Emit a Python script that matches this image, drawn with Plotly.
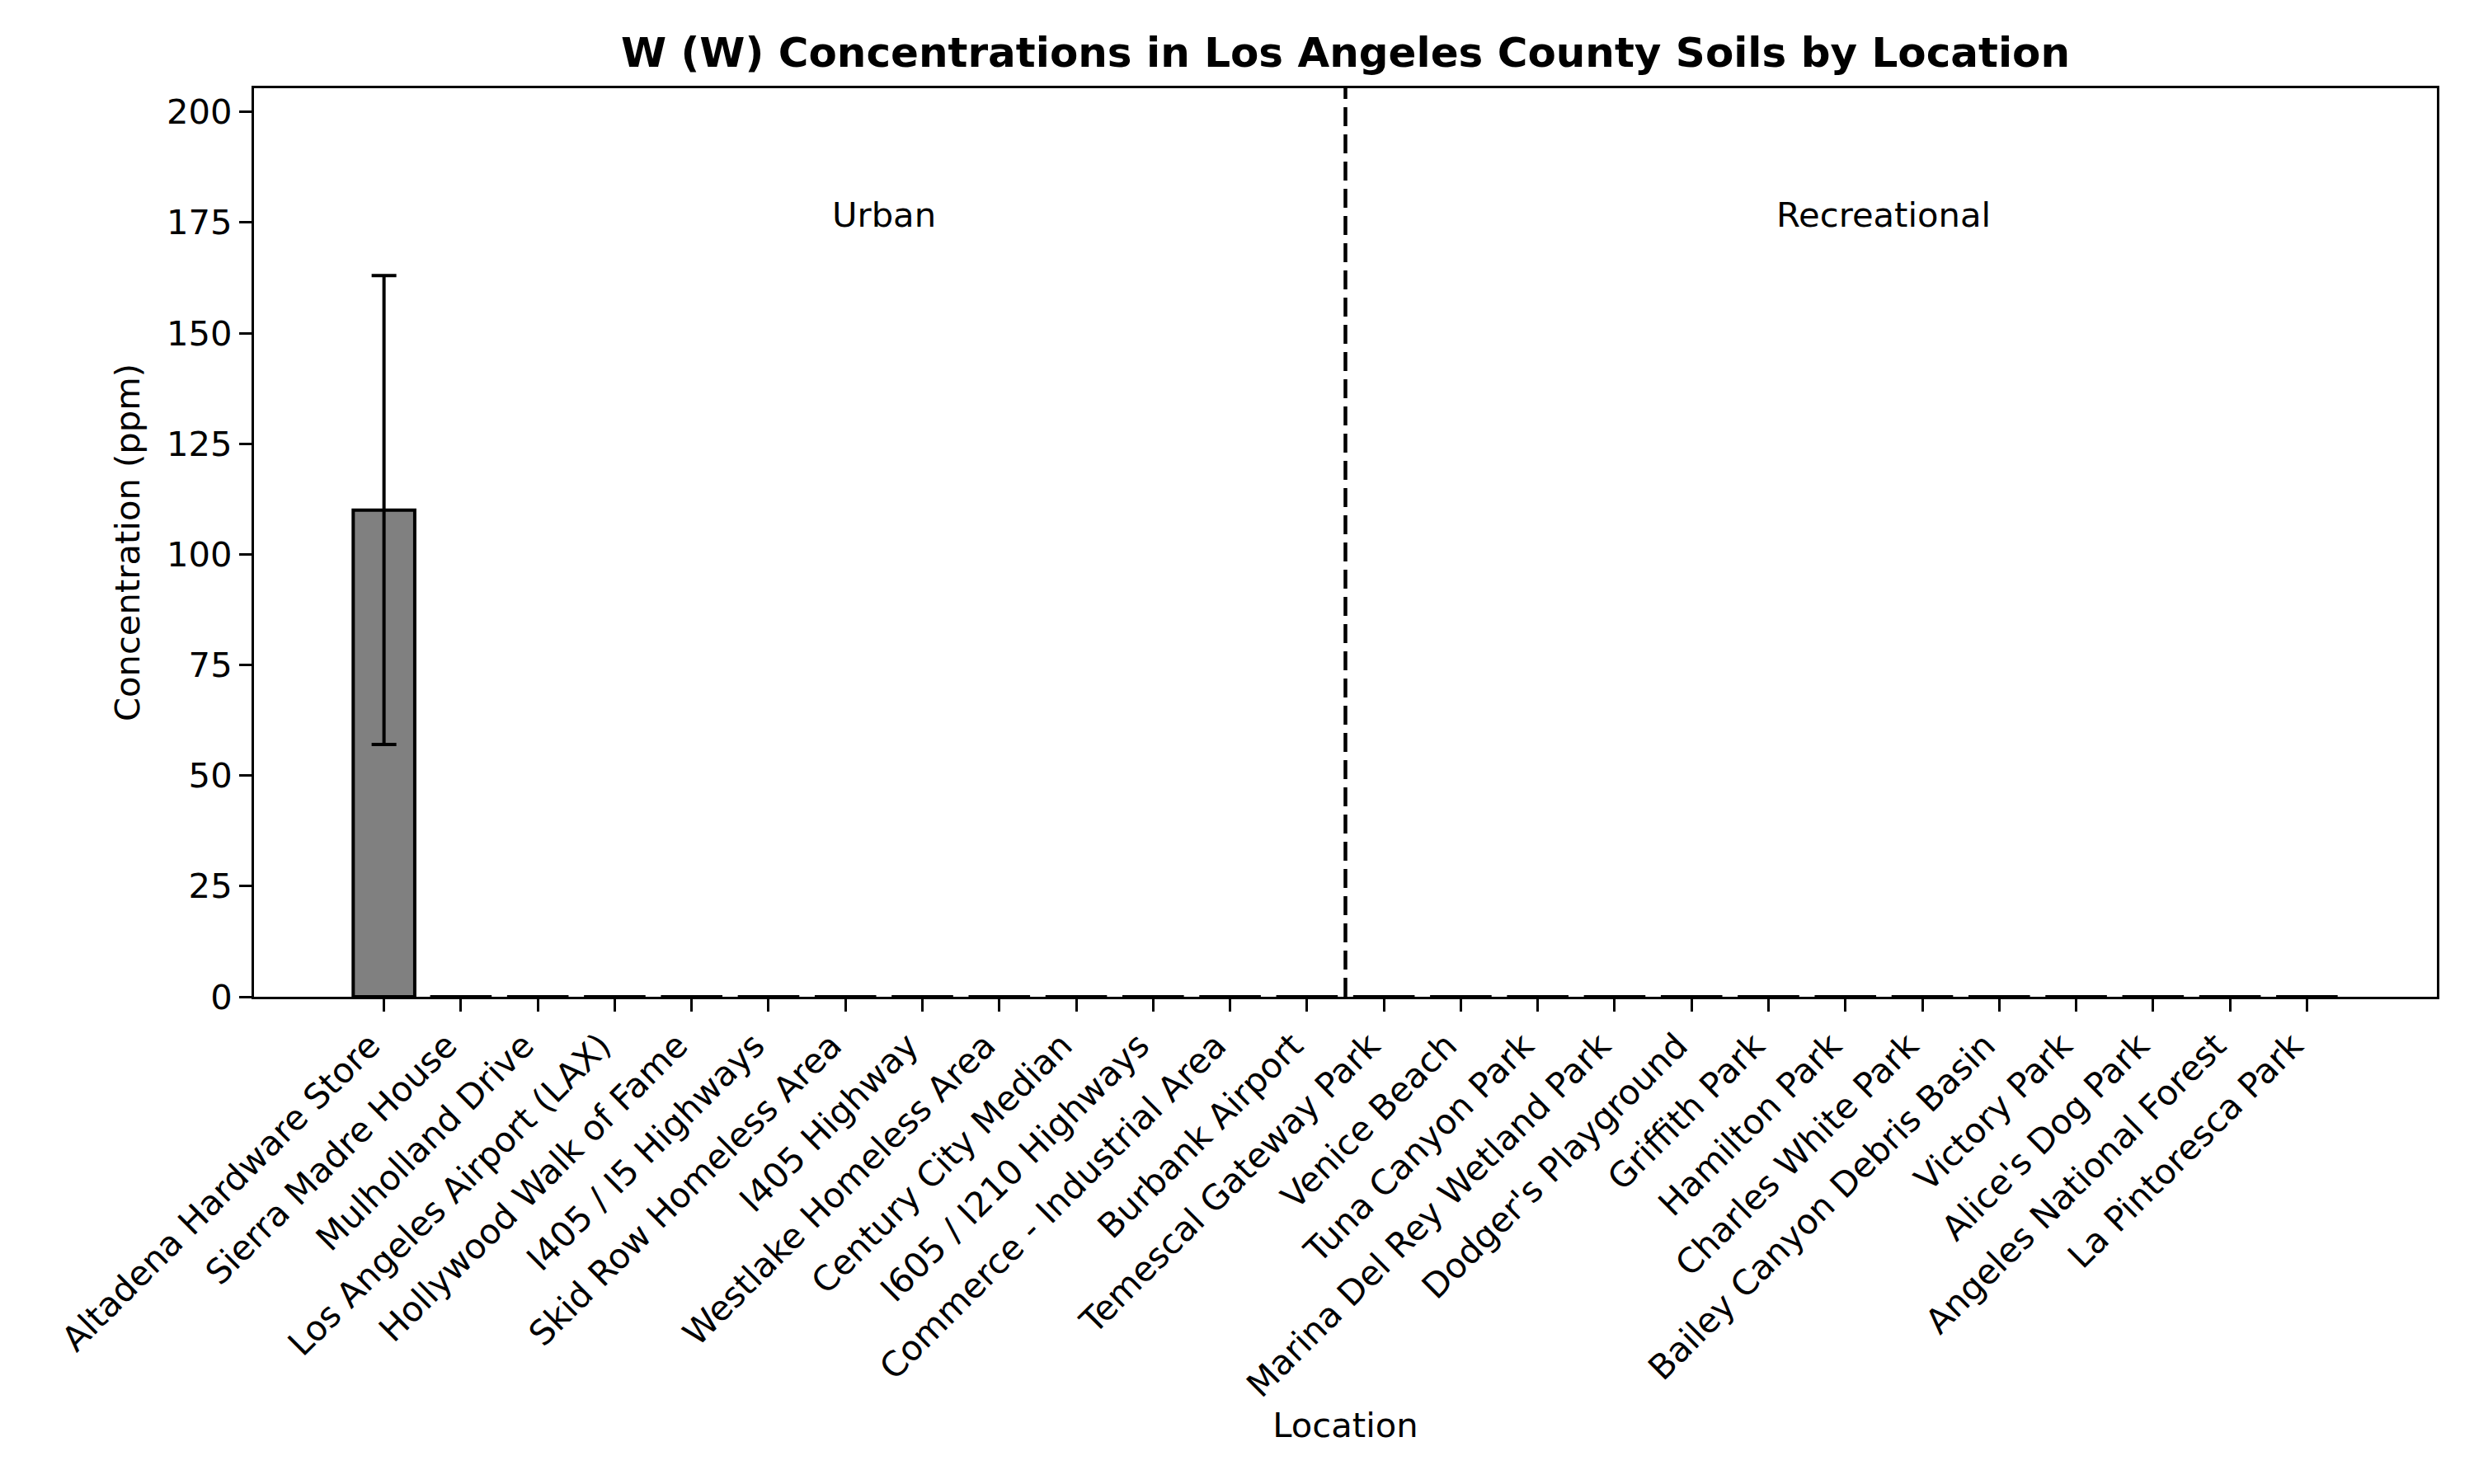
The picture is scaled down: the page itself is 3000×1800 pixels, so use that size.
import plotly.graph_objects as go

# ---- data ----
urban_sites = [
    "Altadena Hardware Store", "Sierra Madre House", "Mulholland Drive",
    "Los Angeles Airport (LAX)", "Hollywood Walk of Fame", "I405 / I5 Highways",
    "Skid Row Homeless Area", "I405 Highway", "Westlake Homeless Area",
    "Century City Median", "I605 / I210 Highways", "Commerce - Industrial Area",
    "Burbank Airport",
]
recreational_sites = [
    "Temescal Gateway Park", "Venice Beach", "Tuna Canyon Park",
    "Marina Del Rey Wetland Park", "Dodger's Playground", "Griffith Park",
    "Hamilton Park", "Charles White Park", "Bailey Canyon Debris Basin",
    "Victory Park", "Alice's Dog Park", "Angeles National Forest",
    "La Pintoresca Park",
]
urban_means = [110, 0, 0, 0, 0, 0, 0, 0, 0, 0, 0, 0, 0]
urban_errors = [53, 0, 0, 0, 0, 0, 0, 0, 0, 0, 0, 0, 0]
recreational_means = [0, 0, 0, 0, 0, 0, 0, 0, 0, 0, 0, 0, 0]
recreational_errors = [0, 0, 0, 0, 0, 0, 0, 0, 0, 0, 0, 0, 0]
group_names = ["Urban", "Recreational"]
y_ticks = [0, 25, 50, 75, 100, 125, 150, 175, 200]
y_max = 205.35
label_y = 175

locations = urban_sites + recreational_sites
means = urban_means + recreational_means
errors = urban_errors + recreational_errors
xpos = list(range(len(locations)))
n_u = len(urban_sites)
n_r = len(recreational_sites)

FONT = "DejaVu Sans"
FS = 41.7

fig = go.Figure()
fig.add_trace(go.Bar(
    x=xpos, y=means, width=0.8,
    marker=dict(color="#808080", line=dict(color="black", width=4)),
    error_y=dict(type="data", array=errors, visible=True,
                 color="black", thickness=4, width=15),
    showlegend=False,
))

# separator between groups
fig.add_shape(type="line", xref="x", yref="paper",
              x0=n_u - 0.5, x1=n_u - 0.5, y0=0, y1=1,
              line=dict(color="black", width=4.5, dash="23px,10px"))

for gx, name in [(n_u / 2, group_names[0]), (n_u + n_r / 2, group_names[1])]:
    fig.add_annotation(x=gx, y=label_y, xref="x", yref="y",
                       text=name, showarrow=False,
                       font=dict(family=FONT, size=FS, color="black"),
                       yanchor="bottom", xanchor="center", yshift=-17)

fig.update_layout(
    width=3000, height=1800,
    margin=dict(l=308, r=45, t=107, b=591, autoexpand=False),
    paper_bgcolor="white", plot_bgcolor="white",
    font=dict(family=FONT, size=FS, color="black"),
    title=dict(text="<b>W (W) Concentrations in Los Angeles County Soils by Location</b>",
               x=0.5, xref="paper", xanchor="center",
               y=1 - 63 / 1800, yref="container", yanchor="middle",
               font=dict(family=FONT, size=50, color="black")),
    bargap=0.2,
)
fig.update_xaxes(
    range=[-1.69, len(locations) - 1 + 1.69],
    tickmode="array", tickvals=xpos, ticktext=locations,
    tickangle=-45, ticks="outside", ticklen=15, tickwidth=3, tickcolor="black",
    ticklabelshift=-17,
    showline=True, linecolor="black", linewidth=3, mirror=True,
    showgrid=False, zeroline=False,
    tickfont=dict(family=FONT, size=FS, color="black"),
    title=dict(text="Location", standoff=11,
               font=dict(family=FONT, size=FS, color="black")),
    automargin=False,
)
fig.update_yaxes(
    range=[0, y_max],
    tickmode="array", tickvals=y_ticks, ticktext=[str(v) for v in y_ticks],
    ticks="outside", ticklen=15, tickwidth=3, tickcolor="black",
    showline=True, linecolor="black", linewidth=3, mirror=True,
    showgrid=False, zeroline=False,
    tickfont=dict(family=FONT, size=FS, color="black"),
    title=dict(text="Concentration (ppm)", standoff=20,
               font=dict(family=FONT, size=FS, color="black")),
    automargin=False,
)

fig.write_html("out.html")
